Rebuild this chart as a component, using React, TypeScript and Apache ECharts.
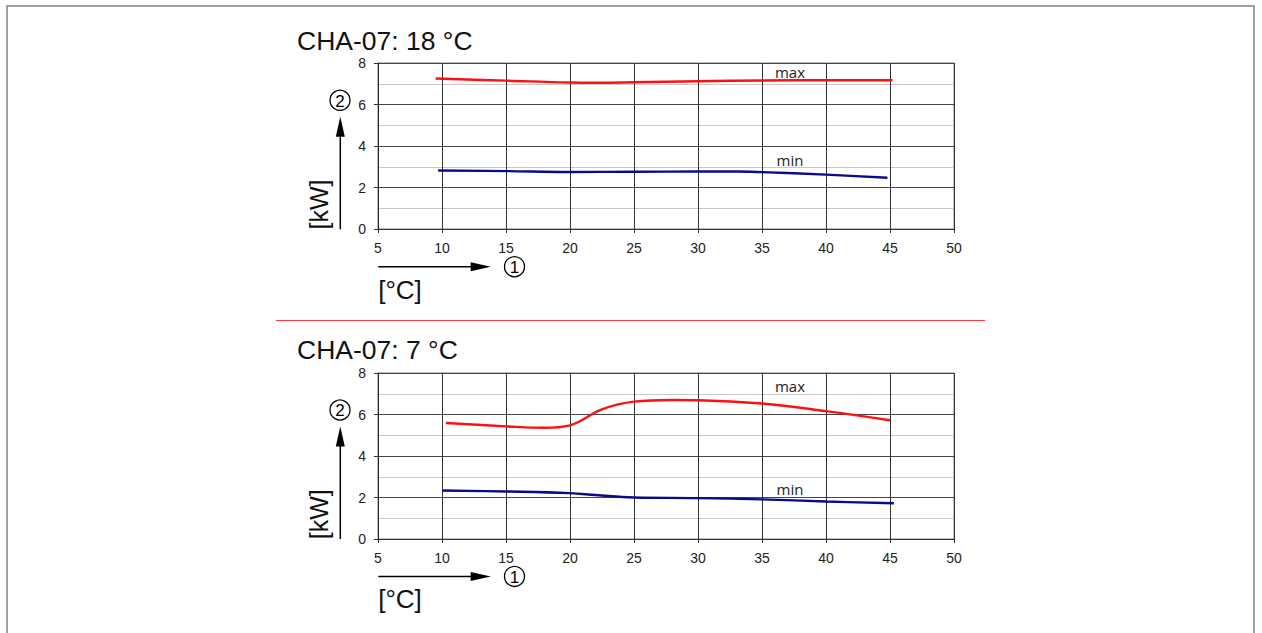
import React, { useEffect, useRef } from "react";
import * as echarts from "echarts";

// ---- data ----
const xTickValues = [5, 10, 15, 20, 25, 30, 35, 40, 45, 50];
const yTickValues = [0, 2, 4, 6, 8];

const titles = ["CHA-07: 18 °C", "CHA-07: 7 °C"];
const yUnit = "[kW]";
const xUnit = "[°C]";
const curveLabels = ["max", "min"];

// top chart (18 °C)
const topMaxX = [9.5, 15, 20, 22, 25, 30, 35, 40, 45.2];
const topMaxY = [7.25, 7.15, 7.06, 7.05, 7.07, 7.12, 7.16, 7.17, 7.17];
const topMinX = [9.7, 15, 20, 25, 30, 33, 35, 40, 44.8];
const topMinY = [2.82, 2.79, 2.75, 2.76, 2.77, 2.77, 2.74, 2.62, 2.47];

// bottom chart (7 °C)
const botMaxX = [10.3, 15, 18, 20, 22.5, 25, 28, 30, 35, 40, 45];
const botMaxY = [5.59, 5.43, 5.36, 5.48, 6.25, 6.62, 6.7, 6.69, 6.53, 6.16, 5.72];
const botMinX = [10, 15, 20, 22, 25, 30, 35, 40, 45.3];
const botMinY = [2.34, 2.29, 2.21, 2.12, 2.0, 1.97, 1.91, 1.81, 1.72];

const zip = (xs: number[], ys: number[]) => xs.map((x, i) => [x, ys[i]]);

const FONT = "'Liberation Sans', Arial, sans-serif";

export default function App() {
  const ref = useRef<HTMLDivElement>(null);

  useEffect(() => {
    if (!ref.current) return;
    const chart = echarts.init(ref.current, undefined, { renderer: "svg" });

    const grids = [
      { left: 378, width: 576, top: 63, height: 166 },
      { left: 378, width: 576, top: 373, height: 166 },
    ];
    const offs = [0, 309.7];

    const xAxis = grids.map((_, i) => ({
      type: "value",
      gridIndex: i,
      min: xTickValues[0],
      max: xTickValues[xTickValues.length - 1],
      interval: 5,
      axisLine: { show: true, lineStyle: { color: "#333", width: 1 } },
      axisTick: { show: true, length: 4, lineStyle: { color: "#333" } },
      axisLabel: { color: "#222", fontSize: 14, fontFamily: FONT, margin: 12 },
      splitLine: { show: true, lineStyle: { color: "#333", width: 1 } },
    }));

    const yAxis = grids.map((_, i) => ({
      type: "value",
      gridIndex: i,
      min: yTickValues[0],
      max: yTickValues[yTickValues.length - 1],
      interval: 2,
      axisLine: { show: true, lineStyle: { color: "#222", width: 1 } },
      axisTick: { show: true, length: 4, lineStyle: { color: "#333" } },
      axisLabel: { color: "#222", fontSize: 14, fontFamily: FONT, margin: 12 },
      splitLine: { show: true, lineStyle: { color: "#444", width: 1 } },
      minorTick: { show: false, splitNumber: 2 },
      minorSplitLine: { show: true, lineStyle: { color: "#c8c8c8", width: 1 } },
    }));

    const lineSeries = (xs: number[], ys: number[], color: string, gi: number) => ({
      type: "line",
      xAxisIndex: gi,
      yAxisIndex: gi,
      data: zip(xs, ys),
      smooth: 0.4,
      showSymbol: false,
      symbol: "none",
      lineStyle: { color, width: 2.4 },
      z: 5,
    });

    const graphic: any[] = [
      {
        type: "rect",
        shape: { x: 7, y: 6, width: 1247, height: 700 },
        style: { fill: "none", stroke: "#808080", lineWidth: 1.5 },
        silent: true,
      },
      {
        type: "line",
        shape: { x1: 276, y1: 320.5, x2: 985, y2: 320.5 },
        style: { stroke: "#ff3b4a", lineWidth: 1.2 },
      },
    ];

    offs.forEach((o, i) => {
      graphic.push(
        {
          type: "text",
          x: 297,
          y: 40.5 + o,
          style: { text: titles[i], font: `26.5px ${FONT}`, fill: "#111", textAlign: "left", textVerticalAlign: "middle" },
        },
        {
          type: "text",
          x: 318.5,
          y: 204.5 + o,
          rotation: Math.PI / 2,
          style: { text: yUnit, font: `25px ${FONT}`, fill: "#111", textAlign: "center", textVerticalAlign: "middle" },
        },
        {
          type: "text",
          x: 400,
          y: 289.5 + o,
          style: { text: xUnit, font: `26px ${FONT}`, fill: "#111", textAlign: "center", textVerticalAlign: "middle" },
        },
        // vertical arrow
        {
          type: "line",
          shape: { x1: 340.3, y1: 229.3 + o, x2: 340.3, y2: 134 + o },
          style: { stroke: "#000", lineWidth: 1.5 },
        },
        {
          type: "polygon",
          shape: { points: [[340.3, 116.7 + o], [335.8, 136.7 + o], [344.8, 136.7 + o]] },
          style: { fill: "#000" },
        },
        // horizontal arrow
        {
          type: "line",
          shape: { x1: 378.3, y1: 266.7 + o, x2: 473, y2: 266.7 + o },
          style: { stroke: "#000", lineWidth: 1.5 },
        },
        {
          type: "polygon",
          shape: { points: [[490.7, 266.7 + o], [470.7, 262.2 + o], [470.7, 271.2 + o]] },
          style: { fill: "#000" },
        },
        // circled numbers
        {
          type: "circle",
          shape: { cx: 340, cy: 100.3 + o, r: 10 },
          style: { fill: "none", stroke: "#000", lineWidth: 1.3 },
        },
        {
          type: "text",
          x: 340,
          y: 101 + o,
          style: { text: "2", font: `17px ${FONT}`, fill: "#000", textAlign: "center", textVerticalAlign: "middle" },
        },
        {
          type: "circle",
          shape: { cx: 514.5, cy: 266.7 + o, r: 10 },
          style: { fill: "none", stroke: "#000", lineWidth: 1.3 },
        },
        {
          type: "text",
          x: 514.5,
          y: 267.4 + o,
          style: { text: "1", font: `17px ${FONT}`, fill: "#000", textAlign: "center", textVerticalAlign: "middle" },
        },
        // curve labels
        {
          type: "text",
          x: 790,
          y: (i === 0 ? 71.7 : 76.3) + o,
          style: { text: curveLabels[0], font: `15px 'Open Sans', ${FONT}`, fill: "#222", textAlign: "center", textVerticalAlign: "middle" },
        },
        {
          type: "text",
          x: 790,
          y: (i === 0 ? 160 : 179.3) + o,
          style: { text: curveLabels[1], font: `15px 'Open Sans', ${FONT}`, fill: "#222", textAlign: "center", textVerticalAlign: "middle" },
        }
      );
    });

    chart.setOption({
      animation: false,
      backgroundColor: "#ffffff",
      grid: grids.map((g) => ({ ...g, show: true, borderColor: "#808080", borderWidth: 1, containLabel: false })),
      xAxis,
      yAxis,
      series: [
        lineSeries(topMaxX, topMaxY, "#ff1010", 0),
        lineSeries(topMinX, topMinY, "#0a0a8a", 0),
        lineSeries(botMaxX, botMaxY, "#ff1010", 1),
        lineSeries(botMinX, botMinY, "#0a0a8a", 1),
      ],
      graphic,
    });

    return () => chart.dispose();
  }, []);

  return (
    <div
      ref={ref}
      style={{ position: "absolute", left: 0, top: 0, width: 1262, height: 633, background: "#fff" }}
    />
  );
}
